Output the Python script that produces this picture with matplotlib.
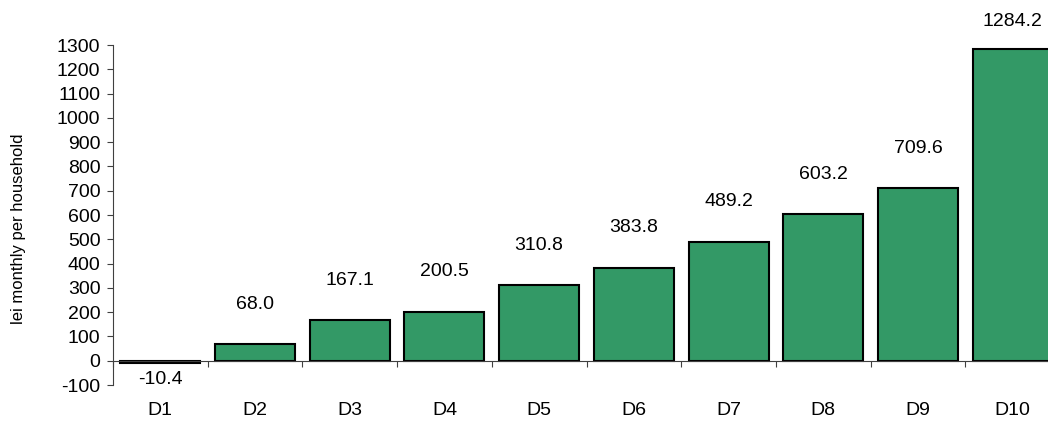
import numpy as np
import matplotlib.pyplot as plt

# decile labels and values (lei monthly per household)
deciles = ['D1', 'D2', 'D3', 'D4', 'D5', 'D6', 'D7', 'D8', 'D9', 'D10']
values = [-10.4, 68.0, 167.1, 200.5, 310.8, 383.8, 489.2, 603.2, 709.6, 1284.2]

plt.rcParams['font.family'] = ['Liberation Sans', 'DejaVu Sans']
plt.rcParams['axes.unicode_minus'] = False

fig = plt.figure(figsize=(10.48, 4.25), dpi=100)
ax = fig.add_axes([113 / 1048, 40 / 425, 947 / 1048, 340 / 425])

x = np.arange(len(deciles))
ax.bar(x, values, width=0.845, color='#339966', edgecolor='black', linewidth=1.5)

# value labels: above positive bars (kept inside the figure), below the negative one
for xi, v in zip(x, values):
    if v >= 0:
        ax.text(xi, min(v + 165, 1395), f'{v:.1f}', ha='center', va='center',
                fontsize=14, clip_on=False)
    else:
        ax.annotate(f'{v:.1f}', (xi, v), xytext=(0, -12), textcoords='offset points',
                    ha='center', va='center', fontsize=14)

ax.set_xlim(-0.5, len(deciles) - 0.5)
ax.set_ylim(-100, 1300)
ax.set_yticks(np.arange(-100, 1301, 100))
ax.tick_params(axis='y', labelsize=14, length=4, width=0.8, color='#404040', pad=5)

# category boundaries as ticks on the zero line, names as labels further down
ax.spines['bottom'].set_position(('data', 0))
ax.set_xticks(x)
ax.set_xticklabels(deciles)
ax.set_xticks(np.arange(-0.5, len(deciles), 1), minor=True)
ax.tick_params(axis='x', which='major', length=0, labelsize=14, pad=30)
ax.tick_params(axis='x', which='minor', length=4, width=0.8, color='#404040')

for side in ['top', 'right']:
    ax.spines[side].set_visible(False)
for side in ['left', 'bottom']:
    ax.spines[side].set_color('#404040')
    ax.spines[side].set_linewidth(0.8)

ax.set_ylabel('lei monthly per household', fontsize=12)
ax.yaxis.set_label_coords(-0.092, 0.459)

fig.savefig('out.png', dpi=100)
